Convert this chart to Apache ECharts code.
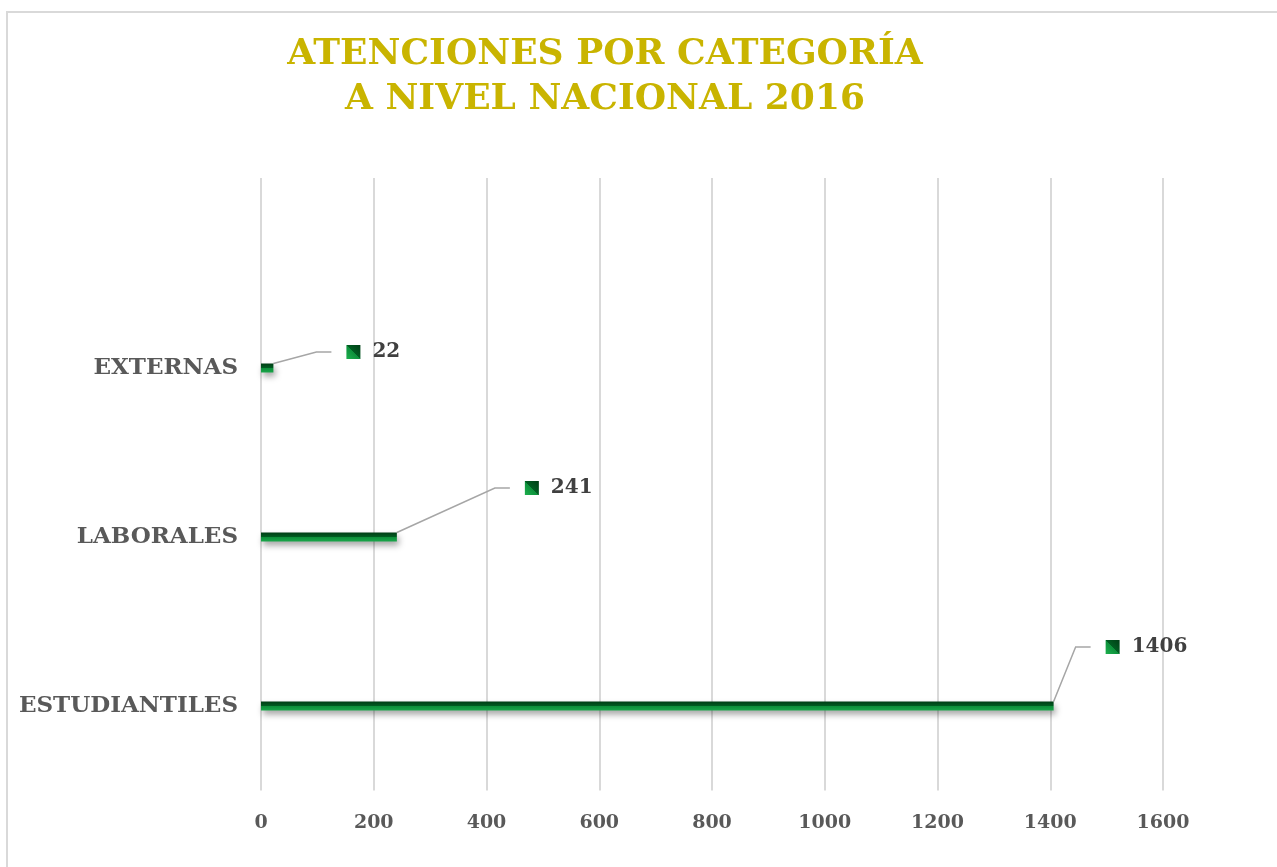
<!DOCTYPE html>
<html>
<head>
<meta charset="utf-8">
<script src="https://cdn.jsdelivr.net/npm/echarts@6/dist/echarts.min.js"></script>
<style>
html,body{margin:0;padding:0;background:#fff;}
#frame{position:absolute;left:6px;top:11px;width:1300px;height:900px;border-top:2px solid #d9d9d9;border-left:2px solid #d9d9d9;}
#chart{position:absolute;left:0;top:0;width:1277px;height:867px;}
</style>
</head>
<body>
<div id="frame"></div>
<div id="chart"></div>
<script>
const titleLines = ['ATENCIONES POR CATEGORÍA', 'A NIVEL NACIONAL 2016'];
const categories = ['ESTUDIANTILES', 'LABORALES', 'EXTERNAS'];
const values = [1406, 241, 22];
const tickMin = 0, tickMax = 1600, tickStep = 200;
// label displacement (style only): [dx, dy] from default right-side label position
const labelShift = [[32, -59], [108, -49], [53, -16]];

const FONT = 'DejaVu Serif';
const chart = echarts.init(document.getElementById('chart'));

chart.setOption({
  backgroundColor: 'transparent',
  animation: false,
  graphic: [{
    type: 'text', x: 605, y: 32,
    style: {
      text: titleLines.join('\n'), textAlign: 'center', textVerticalAlign: 'top',
      fontFamily: FONT, fontWeight: 'bold', fontSize: 36, lineHeight: 45, fill: '#C9B400'
    }
  }],
  grid: [
    { left: 261, right: 114, top: 283.5, bottom: 76.5 },
    { left: 261, right: 114, top: 178, bottom: 76.5 }
  ],
  xAxis: [
    { gridIndex: 0, type: 'value', min: tickMin, max: tickMax, interval: tickStep, show: false },
    { gridIndex: 1, type: 'value', min: tickMin, max: tickMax, interval: tickStep,
      axisLine: { show: false }, axisTick: { show: false },
      splitLine: { show: true, lineStyle: { color: '#d9d9d9', width: 2 } },
      axisLabel: { margin: 23, fontFamily: FONT, fontWeight: 'bold', fontSize: 19, color: '#595959',
                   formatter: function (v) { return String(v); } } }
  ],
  yAxis: [
    { gridIndex: 0, type: 'category', data: categories,
      axisLine: { show: false }, axisTick: { show: false }, splitLine: { show: false },
      axisLabel: { margin: 23, fontFamily: FONT, fontWeight: 'bold', fontSize: 23, color: '#595959' } },
    { gridIndex: 1, type: 'category', data: categories, show: false }
  ],
  series: [{
    type: 'bar',
    xAxisIndex: 0, yAxisIndex: 0,
    data: values,
    barWidth: 9,
    itemStyle: {
      color: { type: 'linear', x: 0, y: 0, x2: 0, y2: 1, colorStops: [
        { offset: 0, color: '#003d15' }, { offset: 0.45, color: '#005a20' },
        { offset: 0.55, color: '#0d8f3a' }, { offset: 1, color: '#1aa64a' } ] },
      shadowColor: 'rgba(0,0,0,0.35)', shadowBlur: 6, shadowOffsetX: 2, shadowOffsetY: 4
    },
    label: {
      show: true, position: 'right', distance: 5,
      formatter: '{s|}{i|}{g|}{v|{c}}',
      rich: {
        s: { width: 15, height: 14 },
        g: { width: 12, height: 14 },
        i: { width: 14, height: 14,
             backgroundColor: { type: 'linear', x: 0, y: 1, x2: 1, y2: 0, colorStops: [
               { offset: 0, color: '#1db04e' }, { offset: 0.5, color: '#0c8f3a' },
               { offset: 0.5, color: '#005e22' }, { offset: 1, color: '#003e16' } ] } },
        v: { fontFamily: FONT, fontWeight: 'bold', fontSize: 20, color: '#404040' }
      }
    },
    labelLine: { show: true, length2: 15, lineStyle: { color: '#a6a6a6', width: 1.5 } },
    labelLayout: function (p) {
      const s = labelShift[p.dataIndex];
      return { dx: s[0], dy: s[1] };
    }
  }]
});
</script>
</body>
</html>
